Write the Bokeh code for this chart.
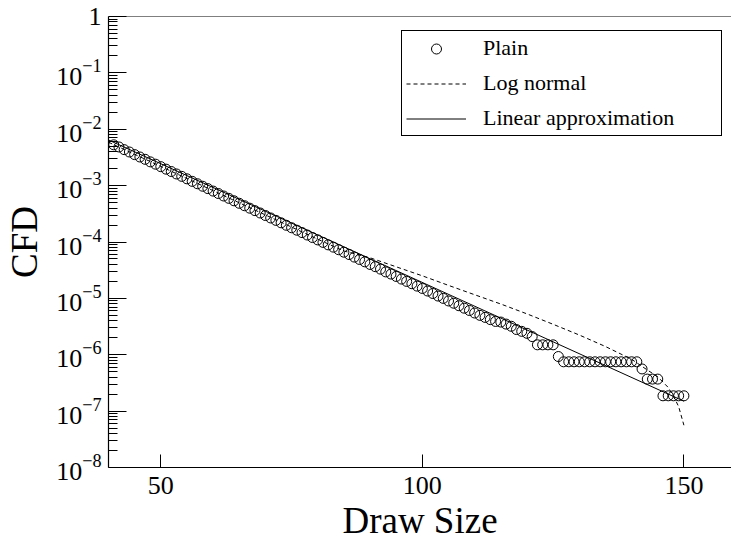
from bokeh.plotting import figure
from bokeh.models import FixedTicker, Span, Legend, LegendItem, LogTickFormatter
from bokeh.embed import file_html
from bokeh.resources import INLINE

# ---- data ----
plain_x = list(range(41, 151))
plain_y = [
    5.3e-3, 4.85e-3, 4.35e-3, 3.95e-3, 3.55e-3, 3.22e-3, 2.93e-3, 2.64e-3, 2.40e-3, 2.17e-3,
    1.96e-3, 1.78e-3, 1.61e-3, 1.46e-3, 1.32e-3, 1.19e-3, 1.08e-3, 9.75e-4, 8.85e-4, 8.0e-4,
    7.25e-4, 6.55e-4, 5.95e-4, 5.38e-4, 4.86e-4, 4.40e-4, 3.98e-4, 3.60e-4, 3.27e-4, 2.95e-4,
    2.67e-4, 2.42e-4, 2.19e-4, 1.98e-4, 1.79e-4, 1.62e-4, 1.47e-4, 1.33e-4, 1.20e-4, 1.09e-4,
    9.85e-5, 8.9e-5, 8.1e-5, 7.3e-5, 6.6e-5, 6.0e-5, 5.4e-5, 4.9e-5, 4.45e-5, 4.0e-5,
    3.65e-5, 3.3e-5, 2.95e-5, 2.7e-5, 2.45e-5, 2.2e-5, 2.0e-5, 1.82e-5, 1.65e-5, 1.5e-5,
    1.35e-5, 1.22e-5, 1.1e-5, 1.0e-5, 9.0e-6, 8.2e-6, 7.4e-6, 6.7e-6, 6.1e-6, 5.5e-6,
    5.0e-6, 4.6e-6, 4.2e-6, 3.9e-6, 3.8e-6, 3.5e-6, 3.2e-6, 2.8e-6, 2.6e-6, 2.4e-6,
    2.1e-6, 1.5e-6, 1.5e-6, 1.5e-6, 1.5e-6, 9.3e-7, 7.5e-7, 7.5e-7, 7.5e-7, 7.5e-7,
    7.5e-7, 7.5e-7, 7.5e-7, 7.5e-7, 7.5e-7, 7.5e-7, 7.5e-7, 7.5e-7, 7.5e-7, 7.5e-7,
    7.5e-7, 5.6e-7, 3.7e-7, 3.7e-7, 3.7e-7, 1.87e-7, 1.87e-7, 1.87e-7, 1.87e-7, 1.87e-7,
]

lognorm_x = [40, 50, 60, 70, 80, 85, 90, 95, 100, 105, 110, 115, 120, 125, 130, 135,
             140, 143, 145, 147, 148, 149, 150]
lognorm_y = [5.89e-3, 2.19e-3, 8.13e-4, 3.02e-4, 1.12e-4, 6.92e-5, 5.25e-5, 3.63e-5,
             2.51e-5, 1.70e-5, 1.16e-5, 7.94e-6, 5.31e-6, 3.47e-6, 2.24e-6, 1.40e-6,
             8.32e-7, 5.37e-7, 4.07e-7, 2.63e-7, 1.86e-7, 1.20e-7, 5.62e-8]

linear_x = [40, 150]
linear_y = [6.45e-3, 1.5e-7]

x_ticks = [50, 100, 150]
y_ticks = [1e-8, 1e-7, 1e-6, 1e-5, 1e-4, 1e-3, 1e-2, 1e-1, 1]
y_minor = [m * d for d in y_ticks[:-1] for m in range(2, 10)]

X_START, X_END = 40, 159.1
Y_START, Y_END = 1e-8, 1

FONT = "Liberation Serif"

p = figure(width=731, height=547, y_axis_type="log",
           x_range=(X_START, X_END), y_range=(Y_START, Y_END),
           output_backend="svg", toolbar_location=None,
           min_border_left=108, min_border_right=0,
           min_border_top=16, min_border_bottom=80)

p.grid.visible = False
p.outline_line_color = None
p.background_fill_color = "white"
p.border_fill_color = "white"

p.add_layout(Span(location=Y_END, dimension="width", line_color="black", line_width=1))

r_lin = p.line(linear_x, linear_y, line_color="black", line_width=1)
r_log = p.line(lognorm_x, lognorm_y, line_color="black", line_width=1, line_dash="4 3")
r_plain = p.scatter(plain_x, plain_y, marker="circle", size=10, fill_color=None,
                    line_color="black", line_width=1)

# axes
xa = p.xaxis[0]
xa.ticker = FixedTicker(ticks=x_ticks)
xa.axis_label = "Draw Size"
xa.major_tick_in = 13
xa.major_tick_out = 0
xa.minor_tick_in = 0
xa.minor_tick_out = 0
xa.major_label_standoff = 9
xa.axis_label_standoff = 3

ya = p.yaxis[0]
ya.ticker = FixedTicker(ticks=y_ticks, minor_ticks=y_minor)
ya.formatter = LogTickFormatter()
ya.major_label_overrides = {1: "1"}
ya.axis_label = "CFD"
ya.major_tick_in = 18
ya.major_tick_out = 0
ya.minor_tick_in = 9
ya.minor_tick_out = 0
ya.major_label_standoff = 7
ya.axis_label_standoff = 8

for ax in (xa, ya):
    ax.axis_line_color = "black"
    ax.axis_line_width = 1.2
    ax.major_tick_line_color = "black"
    ax.minor_tick_line_color = "black"
    ax.major_label_text_font = FONT
    ax.major_label_text_font_size = "26px"
    ax.major_label_text_color = "black"
    ax.axis_label_text_font = FONT
    ax.axis_label_text_font_size = "37px"
    ax.axis_label_text_font_style = "normal"
    ax.axis_label_text_color = "black"

legend = Legend(items=[
    LegendItem(label="Plain", renderers=[r_plain]),
    LegendItem(label="Log normal", renderers=[r_log]),
    LegendItem(label="Linear approximation", renderers=[r_lin]),
], location=(293, 331))
legend.label_text_font = FONT
legend.label_text_font_size = "22px"
legend.label_text_color = "black"
legend.border_line_color = "black"
legend.border_line_width = 1
legend.border_line_alpha = 1
legend.background_fill_alpha = 1
legend.padding = 4
legend.spacing = 9
legend.glyph_width = 60
legend.glyph_height = 25
legend.label_height = 25
legend.label_standoff = 17
legend.label_width = 234
legend.margin = 0
p.add_layout(legend)

open("out.html", "w").write(file_html(p, INLINE))
